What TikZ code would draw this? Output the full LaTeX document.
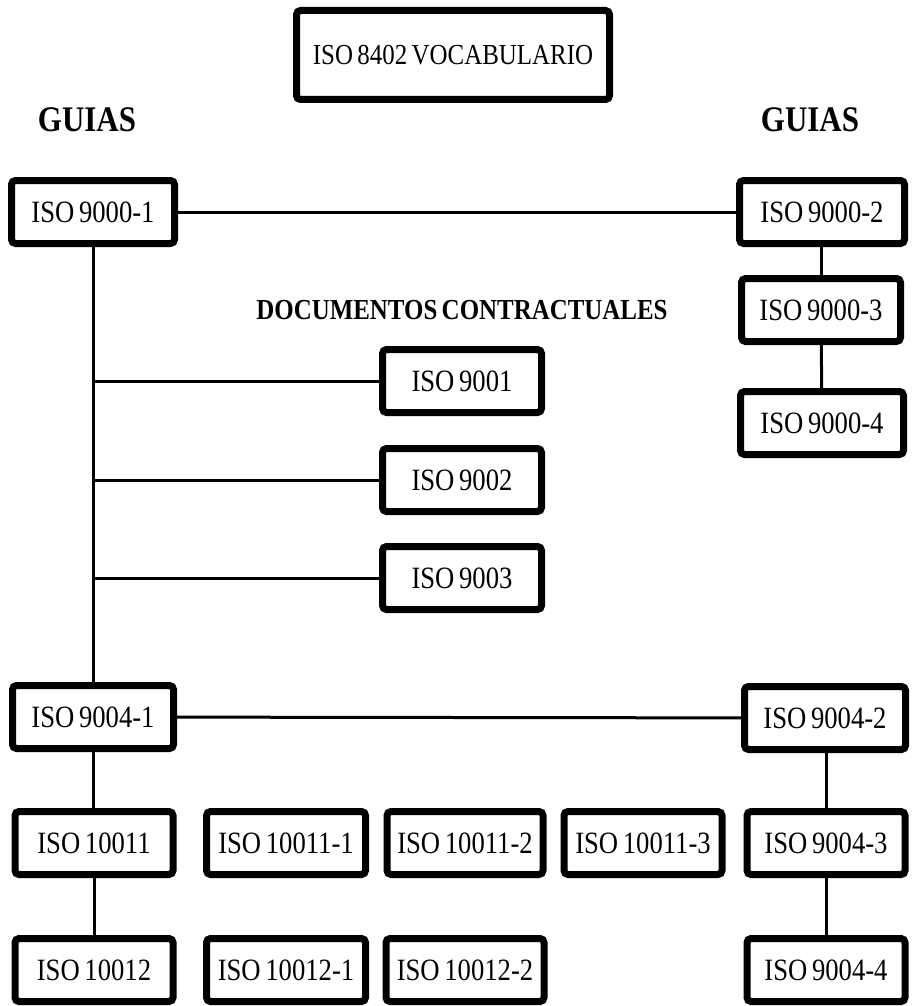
\documentclass[tikz,border=0pt]{standalone}
\usepackage{fontspec}
\setmainfont{Liberation Serif}[FakeStretch=0.86,WordSpace=0.7]
\usetikzlibrary{positioning}
\tikzstyle{block} = [rectangle, draw, line width=7pt, rounded corners=4pt,
    minimum width=159pt, minimum height=63pt, inner sep=0pt, font=\fontsize{31}{33}\selectfont]
\tikzstyle{head} = [font=\bfseries\fontsize{36}{38}\selectfont]
\tikzstyle{line} = [draw, line width=3pt]

\begin{document}
\begin{tikzpicture}[x=1pt,y=-1pt]
    \useasboundingbox (0,0) rectangle (911,1006);
    % Place nodes
    \node [block, minimum width=313pt, minimum height=89pt, font=\fontsize{29}{31}\selectfont] (voc) at (453,55) {ISO 8402 VOCABULARIO};
    \node [head] (guiasl) at (87,120) {GUIAS};
    \node [head] (guiasr) at (810,120) {GUIAS};
    \node [block, minimum width=163pt] (g1) at (93,212) {ISO 9000-1};
    \node [block, minimum width=165pt] (g2) at (822,212) {ISO 9000-2};
    \node [block] (g3) at (821,310) {ISO 9000-3};
    \node [block, minimum width=163pt] (g4) at (822,423) {ISO 9000-4};
    \node [head, font=\bfseries\fontsize{29}{31}\selectfont] (docs) at (462,310) {DOCUMENTOS CONTRACTUALES};
    \node [block] (c1) at (462,381) {ISO 9001};
    \node [block] (c2) at (462,480) {ISO 9002};
    \node [block] (c3) at (462,578) {ISO 9003};
    \node [block, minimum width=161pt] (a1) at (93,717) {ISO 9004-1};
    \node [block, minimum width=161pt] (a2) at (825,718) {ISO 9004-2};
    \node [block, minimum width=158pt] (r1) at (94,843) {ISO 10011};
    \node [block] (r2) at (286,843) {ISO 10011-1};
    \node [block, minimum width=156pt] (r3) at (465,843) {ISO 10011-2};
    \node [block, minimum width=158pt] (r4) at (643,843) {ISO 10011-3};
    \node [block, minimum width=158pt] (a3) at (826,843) {ISO 9004-3};
    \node [block, minimum width=158pt] (s1) at (94,970) {ISO 10012};
    \node [block] (s2) at (286,970) {ISO 10012-1};
    \node [block, minimum width=158pt] (s3) at (465,970) {ISO 10012-2};
    \node [block, minimum width=158pt] (a4) at (826,970) {ISO 9004-4};
    \coordinate (t1) at (a1.north |- c1.west);
    \coordinate (t2) at (a1.north |- c2.west);
    \coordinate (t3) at (a1.north |- c3.west);
    % Draw edges
    \path [line] (g1) -- (g2);
    \path [line] (g1.south -| a1.north) -- (a1.north);
    \path [line] (t1) -- (c1.west);
    \path [line] (t2) -- (c2.west);
    \path [line] (t3) -- (c3.west);
    \path [line] (g2.south -| g3.north) -- (g3.north);
    \path [line] (g3) -- (g4);
    \path [line] (a1) -- (a2);
    \path [line] (a1.south) -- (a1.south |- r1.north);
    \path [line] (r1) -- (s1);
    \path [line] (a2.south -| a3.north) -- (a3.north);
    \path [line] (a3) -- (a4);
\end{tikzpicture}
\end{document}
